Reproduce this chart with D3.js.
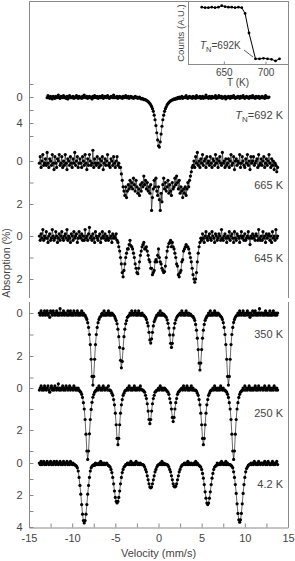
<!DOCTYPE html>
<html lang="en">
<head>
<meta charset="utf-8">
<title>Mössbauer spectra</title>
<script src="https://cdnjs.cloudflare.com/ajax/libs/d3/7.8.5/d3.min.js"></script>
<style>
  body { margin: 0; background: #fff; }
  text { font-family: "Liberation Sans", Arial, sans-serif; }
</style>
</head>
<body>
<div id="chart"></div>
<script>
// velocity channels: -14.0 ... 13.9 mm/s, 0.1 mm/s apart (each row below = 1 mm/s)
var velocity = d3.range(-140, 140).map(function(d) { return d / 10; });

// absorption (%) per channel, null = no data
var spec692 = [
  null,null,null,null,null,null,null,null,null,null,
  null,0.1,-0.2,0.0,0.2,-0.1,0.1,0.3,-0.1,0.0,
  0.2,-0.1,0.1,0.0,-0.3,0.1,0.2,-0.1,0.0,0.1,
  -0.2,0.1,0.0,0.2,-0.1,0.3,0.0,-0.2,0.1,0.0,
  0.1,-0.1,0.2,0.0,0.1,-0.2,0.0,0.2,-0.1,0.1,
  0.0,0.2,-0.1,0.1,-0.3,0.0,0.1,-0.1,0.2,0.0,
  -0.1,0.1,0.0,0.3,-0.1,0.1,-0.2,0.0,0.1,-0.1,
  0.2,0.0,-0.1,0.1,0.0,-0.2,0.2,0.1,-0.1,0.0,
  0.1,-0.2,0.0,0.2,0.1,-0.1,0.0,0.1,-0.3,0.1,
  0.0,0.1,-0.1,0.2,0.0,-0.1,0.1,0.0,0.2,-0.1,
  0.1,0.0,-0.2,0.1,0.1,-0.1,0.2,0.0,-0.1,0.1,
  0.0,0.2,0.1,-0.1,0.1,0.0,0.2,0.1,0.0,0.2,
  0.3,0.2,0.3,0.4,0.35,0.45,0.5,0.6,0.7,0.85,
  1.0,1.2,1.45,1.8,2.2,2.8,3.5,4.4,5.5,6.6,
  7.5,7.7,6.9,5.7,4.5,3.5,2.8,2.2,1.8,1.5,
  1.2,1.0,0.85,0.7,0.6,0.5,0.45,0.4,0.3,0.35,
  0.2,0.3,0.1,0.2,0.0,0.2,0.1,-0.1,0.2,0.1,
  0.0,0.1,-0.2,0.1,0.2,0.0,-0.1,0.1,0.0,0.2,
  -0.1,0.1,0.0,0.2,-0.2,0.1,0.0,0.1,-0.1,0.2,
  0.1,-0.1,0.2,0.0,0.1,-0.3,0.1,0.0,0.2,-0.1,
  0.0,0.2,-0.1,0.1,0.0,0.1,-0.2,0.2,0.0,0.1,
  -0.2,0.0,0.1,-0.1,0.2,0.0,0.1,-0.1,0.3,0.0,
  0.1,-0.1,0.0,0.2,-0.1,0.1,0.0,-0.2,0.1,0.2,
  0.0,0.1,-0.1,0.0,0.2,-0.1,0.1,0.0,-0.2,0.1,
  0.2,0.0,-0.1,0.1,0.0,0.2,-0.1,0.0,0.1,-0.2,
  0.1,0.0,0.2,-0.1,0.1,0.0,-0.1,0.2,0.0,0.1,
  -0.1,0.1,0.0,0.2,-0.2,0.1,0.0,0.1,0.0,null,
  null,null,null,null,null,null,null,null,null,null
];

var spec665 = [
  null,null,0.1,-0.2,0.3,0.0,-0.3,0.2,0.1,-0.1,
  0.2,-0.4,0.1,0.3,-0.1,0.0,0.2,-0.3,0.1,0.4,
  -0.2,0.1,0.3,-0.1,0.0,-0.3,0.2,0.1,-0.2,0.3,
  0.0,0.2,-0.3,0.1,0.4,-0.1,0.0,0.2,-0.2,0.1,
  0.3,-0.1,0.1,-0.4,0.2,0.0,-0.2,0.3,0.1,-0.1,
  0.1,0.3,-0.2,0.0,0.2,-0.3,0.1,0.4,-0.1,0.2,
  -0.3,0.0,0.2,0.1,-0.5,0.3,-0.1,0.1,0.2,-0.2,
  0.1,0.3,-0.1,0.2,0.0,-0.2,0.4,0.1,-0.1,0.2,
  0.0,-0.3,0.2,0.1,0.3,-0.1,0.0,0.2,-0.2,0.1,
  0.3,0.0,-0.2,0.2,0.1,0.3,0.3,0.6,0.9,1.2,
  1.4,1.6,1.2,1.7,1.4,1.1,1.3,0.9,1.2,1.0,
  1.3,0.8,1.1,1.4,0.9,1.2,1.5,1.3,1.6,1.1,
  1.4,1.0,1.2,0.7,1.1,0.9,1.3,1.0,1.4,1.2,
  1.5,1.1,2.3,1.7,1.3,0.9,1.2,0.8,1.4,1.6,
  1.2,1.8,2.3,1.5,1.9,1.1,0.8,1.3,1.0,1.4,
  1.2,0.9,1.5,1.1,1.4,1.6,1.0,1.3,1.2,0.8,
  1.1,0.7,1.0,1.3,0.9,1.5,1.2,1.4,1.7,1.3,
  1.5,1.2,1.6,1.3,1.0,1.2,0.9,0.7,0.5,0.3,
  0.2,0.0,0.3,-0.2,0.1,-0.4,0.2,0.0,0.3,-0.1,
  0.1,-0.3,0.2,0.0,-0.1,0.3,-0.2,0.1,0.0,0.2,
  -0.2,0.1,0.3,-0.1,0.0,0.2,-0.3,0.1,-0.1,0.3,
  0.0,-0.2,0.1,0.2,-0.4,0.1,0.0,0.3,-0.1,0.2,
  0.1,-0.1,0.3,0.0,-0.3,0.2,0.1,-0.2,0.4,0.0,
  -0.1,0.2,0.0,0.1,-0.3,0.3,0.1,-0.2,0.0,0.2,
  0.3,-0.1,0.1,-0.3,0.2,0.0,0.4,-0.2,0.1,0.0,
  -0.2,0.2,0.1,0.0,-0.1,0.3,-0.3,0.2,0.1,-0.1,
  0.2,0.0,-0.2,0.3,0.1,-0.1,0.2,0.0,-0.3,0.1,
  0.3,-0.1,0.2,0.0,0.4,0.1,0.2,0.5,0.3,null
];

var spec645 = [
  null,null,0.0,0.2,-0.1,0.1,-0.3,0.2,0.0,0.1,
  -0.2,0.1,0.3,0.0,-0.1,0.2,0.1,-0.3,0.0,0.2,
  0.1,-0.2,0.0,0.3,0.1,-0.1,0.2,0.0,-0.2,0.1,
  0.2,0.0,-0.1,0.1,-0.3,0.2,0.0,0.1,0.3,-0.1,
  0.0,0.2,-0.2,0.1,0.0,-0.1,0.3,0.1,-0.2,0.0,
  0.1,-0.1,0.2,0.0,0.2,-0.3,0.1,0.0,0.2,-0.1,
  -0.4,0.1,0.0,0.2,-0.1,0.1,0.3,-0.2,0.0,0.1,
  0.2,0.0,-0.1,0.3,0.1,-0.2,0.0,0.1,-0.1,0.2,
  0.0,0.1,0.2,-0.2,0.1,0.0,0.3,-0.1,0.1,0.0,
  0.1,-0.1,0.2,0.3,0.5,0.7,1.0,1.3,1.7,1.9,
  1.6,1.3,1.0,0.8,0.6,0.6,0.4,0.2,0.45,0.5,
  0.6,0.8,1.0,1.3,1.5,1.7,1.75,1.5,1.2,0.9,
  0.7,0.5,0.4,0.3,0.6,0.6,0.5,0.7,0.9,1.1,
  1.2,1.5,1.5,1.8,1.7,1.6,1.2,1.1,1.2,0.9,
  0.6,1.0,1.2,1.3,1.5,1.6,1.7,1.65,1.4,1.0,
  0.7,0.5,0.35,0.3,0.2,0.5,0.3,0.5,0.6,0.8,
  1.0,1.3,1.4,1.8,1.9,1.7,1.6,1.2,1.1,0.7,
  0.6,0.5,0.4,0.5,0.5,0.6,0.8,1.0,1.2,1.5,
  1.8,2.0,2.15,2.0,1.7,1.2,0.8,0.5,0.3,0.1,
  0.2,-0.1,0.1,0.3,0.0,-0.2,0.1,0.2,0.0,-0.1,
  0.1,0.2,-0.2,0.0,0.1,0.3,-0.1,0.0,0.2,0.1,
  -0.1,0.0,0.2,-0.3,0.1,0.2,0.0,-0.1,0.1,0.3,
  0.0,0.1,-0.2,0.2,0.0,-0.1,0.1,0.3,-0.2,0.1,
  0.2,-0.1,0.0,0.1,0.3,0.0,-0.2,0.1,0.0,0.2,
  -0.1,0.2,0.1,0.0,-0.2,0.1,0.4,0.0,0.1,-0.1,
  0.1,0.0,0.2,-0.1,0.0,0.2,-0.3,0.1,0.2,0.0,
  0.2,-0.2,0.1,0.0,0.3,-0.1,0.1,0.0,-0.1,0.2,
  0.0,0.3,-0.2,0.1,0.0,0.2,-0.3,0.1,0.0,null
];

var spec350 = [
  null,null,0.0,0.1,-0.1,0.0,0.1,0.0,-0.1,0.1,
  0.0,-0.1,0.1,0.0,0.2,-0.1,0.0,0.1,-0.1,0.0,
  0.1,0.0,-0.1,0.1,0.0,0.1,-0.2,0.0,0.1,0.0,
  -0.1,0.1,0.0,0.0,0.1,-0.1,0.1,0.0,-0.1,0.1,
  0.0,0.1,-0.1,0.0,0.1,0.0,-0.1,0.1,0.0,0.1,
  0.0,-0.1,0.1,0.0,0.1,0.1,0.2,0.3,0.45,0.67,
  1.0,1.47,2.15,2.95,3.35,2.95,2.15,1.47,1.0,0.67,
  0.45,0.3,0.2,0.15,0.05,0.0,0.1,-0.1,0.1,0.0,
  0.1,0.0,-0.1,0.1,0.0,0.1,0.0,0.05,0.1,0.15,
  0.25,0.35,0.5,0.75,1.1,1.6,2.2,2.55,2.25,1.65,
  1.1,0.75,0.5,0.35,0.2,0.15,0.1,0.0,0.1,-0.1,
  0.0,0.1,0.0,-0.1,0.1,0.0,0.1,-0.1,0.0,0.1,
  0.1,0.0,0.1,0.1,0.15,0.2,0.3,0.45,0.6,0.9,
  1.25,1.4,1.2,0.9,0.6,0.4,0.3,0.2,0.1,0.1,
  0.0,0.1,-0.1,0.1,0.0,0.1,0.05,0.1,0.15,0.2,
  0.32,0.48,0.7,1.02,1.41,1.6,1.41,1.02,0.7,0.48,
  0.32,0.21,0.14,0.1,0.06,0.0,0.1,-0.1,0.0,0.1,
  0.0,0.1,-0.1,0.0,0.1,0.0,0.1,0.05,0.1,0.15,
  0.16,0.24,0.34,0.53,0.8,1.17,1.7,2.33,2.65,2.33,
  1.7,1.17,0.8,0.53,0.34,0.24,0.16,0.11,0.0,0.1,
  -0.1,0.1,0.0,0.1,0.0,-0.1,0.1,0.0,0.1,0.0,
  0.05,0.1,0.15,0.2,0.3,0.45,0.67,1.0,1.47,2.15,
  2.95,3.35,2.95,2.15,1.47,1.0,0.67,0.44,0.3,0.2,
  0.13,0.1,0.0,0.1,-0.1,0.0,0.1,0.0,-0.1,0.1,
  0.0,0.1,0.0,-0.1,0.1,0.0,0.2,0.0,0.1,-0.1,
  0.1,0.0,-0.1,0.1,0.0,0.1,0.0,-0.2,0.1,0.0,
  0.0,0.1,0.0,0.1,-0.1,0.0,0.1,0.0,0.1,-0.1,
  0.1,0.0,0.1,-0.1,0.0,0.1,0.0,0.1,0.0,null
];

var spec250 = [
  null,null,0.1,0.0,-0.1,0.1,0.0,0.1,-0.1,0.0,
  0.1,0.0,-0.1,0.1,0.2,0.0,-0.1,0.1,0.0,0.1,
  -0.1,0.0,0.1,0.0,-0.2,0.1,0.0,0.1,0.0,-0.1,
  0.1,0.0,0.1,-0.1,0.0,0.1,0.0,-0.1,0.1,0.0,
  0.0,0.1,-0.1,0.0,0.1,0.0,0.1,0.0,0.1,0.15,
  0.2,0.3,0.45,0.7,1.0,1.5,2.2,3.0,3.4,3.0,
  2.18,1.5,1.02,0.68,0.44,0.31,0.2,0.14,0.1,0.0,
  0.1,-0.1,0.0,0.1,0.0,0.1,-0.1,0.0,0.1,0.0,
  0.0,0.1,-0.1,0.1,0.1,0.15,0.25,0.35,0.55,0.8,
  1.2,1.75,2.4,2.7,2.4,1.75,1.2,0.8,0.55,0.35,
  0.25,0.15,0.1,0.1,0.0,0.1,-0.1,0.0,0.1,0.0,
  0.1,0.0,-0.1,0.1,0.0,0.1,0.0,0.0,0.1,-0.1,
  0.05,0.1,0.1,0.15,0.2,0.35,0.5,0.75,1.1,1.5,
  1.7,1.5,1.1,0.75,0.5,0.35,0.2,0.15,0.1,0.1,
  0.0,0.1,-0.1,0.0,0.1,0.0,0.1,0.0,0.05,0.1,
  0.15,0.2,0.3,0.5,0.7,1.0,1.4,1.6,1.4,1.0,
  0.7,0.5,0.3,0.2,0.15,0.1,0.05,0.0,0.1,-0.1,
  0.0,0.1,0.0,-0.1,0.1,0.0,0.1,0.0,-0.1,0.1,
  0.0,0.1,0.1,0.1,0.15,0.25,0.35,0.55,0.8,1.2,
  1.75,2.4,2.7,2.4,1.75,1.2,0.8,0.55,0.35,0.25,
  0.15,0.1,0.1,0.0,0.1,-0.1,0.0,0.1,0.0,0.1,
  0.0,0.1,-0.1,0.0,0.1,0.0,0.1,0.1,0.15,0.2,
  0.3,0.45,0.7,1.0,1.5,2.2,3.0,3.4,3.0,2.2,
  1.5,1.0,0.7,0.45,0.3,0.2,0.15,0.1,0.0,0.1,
  -0.1,0.1,0.0,0.1,0.0,-0.1,0.1,0.0,0.1,0.0,
  0.1,0.0,-0.1,0.1,0.0,0.1,-0.1,0.0,0.1,0.0,
  0.0,0.1,0.0,-0.1,0.1,0.0,0.1,0.0,-0.1,0.1,
  0.0,0.1,0.0,0.1,-0.1,0.0,0.1,0.0,0.1,null
];

var spec4k = [
  null,null,0.0,0.1,-0.1,0.1,0.0,-0.1,0.1,0.0,
  0.1,-0.1,0.0,0.1,0.0,-0.1,0.1,0.0,0.1,-0.1,
  0.0,0.1,-0.1,0.0,0.1,0.0,-0.1,0.1,0.0,0.1,
  -0.1,0.0,0.1,0.0,-0.1,0.1,0.0,0.1,-0.1,0.0,
  0.1,0.0,0.1,0.1,0.15,0.2,0.3,0.5,0.9,1.4,
  1.95,2.6,3.2,3.6,3.75,3.6,3.2,2.6,1.95,1.4,
  0.9,0.5,0.3,0.2,0.15,0.1,0.15,0.0,0.1,0.05,
  0.1,0.0,0.1,-0.1,0.1,0.0,0.1,0.0,0.1,0.05,
  0.0,0.1,0.15,0.2,0.25,0.4,0.6,0.9,1.3,1.75,
  2.15,2.4,2.5,2.4,2.15,1.75,1.3,0.9,0.6,0.4,
  0.25,0.2,0.1,0.1,0.0,0.1,0.0,0.1,-0.1,0.1,
  0.0,0.1,0.0,0.1,-0.1,0.0,0.1,0.0,0.1,0.0,
  0.1,0.1,0.1,0.15,0.25,0.4,0.55,0.8,1.05,1.3,
  1.5,1.55,1.5,1.3,1.05,0.8,0.55,0.4,0.25,0.15,
  0.1,0.1,0.0,0.1,-0.1,0.1,0.0,0.1,0.05,0.1,
  0.1,0.15,0.25,0.4,0.55,0.8,1.05,1.3,1.45,1.5,
  1.45,1.3,1.05,0.8,0.55,0.4,0.25,0.15,0.1,0.1,
  0.0,0.1,0.0,0.1,-0.1,0.1,0.0,0.1,0.0,0.1,
  0.1,0.0,0.1,-0.1,0.1,0.0,0.1,0.15,0.2,0.25,
  0.4,0.65,0.95,1.35,1.8,2.2,2.5,2.6,2.5,2.2,
  1.8,1.35,0.95,0.65,0.4,0.25,0.2,0.15,0.0,0.1,
  0.1,0.0,0.1,-0.1,0.0,0.1,0.0,0.1,-0.1,0.1,
  0.0,0.1,0.1,0.1,0.15,0.2,0.3,0.55,0.9,1.35,
  1.9,2.55,3.15,3.55,3.7,3.55,3.15,2.55,1.9,1.35,
  0.9,0.55,0.35,0.25,0.15,0.1,0.1,0.0,0.1,0.0,
  0.1,-0.1,0.0,0.1,0.0,0.1,-0.1,0.0,0.1,0.0,
  0.0,0.1,0.0,-0.1,0.1,0.0,0.1,-0.1,0.0,0.1,
  0.1,0.0,-0.1,0.1,0.0,0.1,0.0,-0.1,0.1,null
];

var tempLabels = ["=692 K", "665 K", "645 K", "350 K", "250 K", "4.2 K"];

// inset: counts vs temperature
var insetT = [623.5, 627.5, 631.5, 635.5, 639.5, 643.5, 647.5, 651.5, 655.5, 659.5, 663.5, 667.5, 671.5,
              675.5, 680.2, 688, 692.8, 697.6, 702.4, 707.2, 712, 716.8];
var insetCounts = [1.0, 0.99, 0.99, 1.0, 0.99, 1.0, 1.03, 1.01, 1.0, 1.0, 0.99, 1.0, 0.99,
                   0.88, 0.5, 0.0, 0.0, 0.01, 0.0, -0.01, -0.04, 0.0];

var xTicks = [-15, -12.5, -10, -7.5, -5, -2.5, 0, 2.5, 5, 7.5, 10, 12.5, 15];

// layout of the stacked spectra
var panels = [
  {data: spec692, domain: [0, 4], range: [97, 123], ticks: [-2, 0, 2, 4, 6], shown: [0, 4], labelY: 119},
  {data: spec665, domain: [0, 2], range: [161, 204], ticks: [0, 1, 2], shown: [0, 2], labelY: 189},
  {data: spec645, domain: [0, 2], range: [236, 279], ticks: [0, 1, 2], shown: [0, 2], labelY: 262},
  {data: spec350, domain: [0, 2], range: [313, 356], ticks: [0, 1, 2, 3], shown: [0, 2], labelY: 338},
  {data: spec250, domain: [0, 2], range: [388, 430], ticks: [0, 1, 2, 3], shown: [0, 2], labelY: 417},
  {data: spec4k, domain: [0, 4], range: [463, 527], ticks: [0, 1, 2, 3, 4], shown: [0, 2, 4], labelY: 488}
];

var w = 295, h = 561;
var left = 29, right = 288, bottom = 527;
var frameColor = "#8a8a8a", textColor = "#444";

var svg = d3.select("#chart").append("svg")
    .attr("width", w)
    .attr("height", h);

var x = d3.scaleLinear().domain([-15, 15]).range([left, right]);

// frame: two stacked boxes
var frame = svg.append("g").attr("stroke", frameColor).attr("stroke-width", 1).attr("fill", "none");
frame.append("path").attr("d", "M" + (left + 0.5) + ",298V1.5H" + (right + 0.5) + "V298");
frame.append("path").attr("d", "M" + (left + 0.5) + ",302V" + (bottom + 0.5) + "M" + (right + 0.5) + ",302V" + (bottom + 0.5));

// bottom axis
var xAxis = d3.axisBottom(x)
    .tickValues(xTicks)
    .tickSizeInner(-4)
    .tickSizeOuter(0)
    .tickPadding(7)
    .tickFormat(function(d) { return d % 5 === 0 ? String(d) : ""; });
var gx = svg.append("g")
    .attr("transform", "translate(0," + (bottom + 0.5) + ")")
    .call(xAxis);
gx.select(".domain").attr("stroke", frameColor);
gx.selectAll(".tick line").attr("stroke", frameColor);
gx.selectAll("text").attr("fill", textColor).attr("font-size", 11)
    .attr("font-family", "Liberation Sans, Arial, sans-serif");

svg.append("text")
    .attr("x", (left + right) / 2)
    .attr("y", 557)
    .attr("text-anchor", "middle")
    .attr("font-size", 11)
    .attr("fill", textColor)
    .text("Velocity (mm/s)");

svg.append("text")
    .attr("transform", "translate(10,263) rotate(-90)")
    .attr("text-anchor", "middle")
    .attr("font-size", 10.5)
    .attr("fill", textColor)
    .text("Absorption (%)");

panels.forEach(function(p, k) {
  var y = d3.scaleLinear().domain(p.domain).range(p.range);

  var yAxis = d3.axisLeft(y)
      .tickValues(p.ticks)
      .tickSizeInner(-4)
      .tickSizeOuter(0)
      .tickPadding(7)
      .tickFormat(function(d) { return p.shown.indexOf(d) >= 0 ? String(d) : ""; });
  var gy = svg.append("g")
      .attr("transform", "translate(" + (left + 0.5) + ",0)")
      .call(yAxis);
  gy.select(".domain").remove();
  gy.selectAll(".tick line").attr("stroke", frameColor);
  gy.selectAll("text").attr("fill", textColor).attr("font-size", 11)
      .attr("font-family", "Liberation Sans, Arial, sans-serif");

  var pts = velocity.map(function(v, i) { return [v, p.data[i]]; })
      .filter(function(d) { return d[1] !== null; });

  svg.append("path")
      .datum(pts)
      .attr("fill", "none")
      .attr("stroke", "#000")
      .attr("stroke-width", 0.6)
      .attr("d", d3.line()
          .x(function(d) { return x(d[0]); })
          .y(function(d) { return y(d[1]); }));

  svg.append("g").selectAll("circle")
      .data(pts)
      .join("circle")
      .attr("cx", function(d) { return x(d[0]); })
      .attr("cy", function(d) { return y(d[1]); })
      .attr("r", 1.6)
      .attr("fill", "#000");

  var t = svg.append("text")
      .attr("x", 283)
      .attr("y", p.labelY)
      .attr("text-anchor", "end")
      .attr("font-size", 11)
      .attr("fill", textColor);
  if (k === 0) {
    t.append("tspan").attr("font-style", "italic").text("T");
    t.append("tspan").attr("font-size", 8).attr("dy", 3).text("N");
    t.append("tspan").attr("dy", -3).text(tempLabels[k]);
  } else {
    t.text(tempLabels[k]);
  }
});

// inset
var inset = svg.append("g");
var xT = d3.scaleLinear().domain([607, 727]).range([188, 288]);
var yC = d3.scaleLinear().domain([-0.1, 1.12]).range([64, 1]);

inset.append("rect")
    .attr("x", 188.5).attr("y", 1.5)
    .attr("width", 100).attr("height", 63)
    .attr("fill", "#fff")
    .attr("stroke", frameColor);

var tAxis = d3.axisBottom(xT)
    .tickValues([650, 700])
    .tickSizeInner(-3)
    .tickSizeOuter(0)
    .tickPadding(4);
var gt = inset.append("g").attr("transform", "translate(0,64.5)").call(tAxis);
gt.select(".domain").remove();
gt.selectAll(".tick line").attr("stroke", frameColor);
gt.selectAll("text").attr("fill", textColor).attr("font-size", 10)
    .attr("font-family", "Liberation Sans, Arial, sans-serif");

inset.append("text")
    .attr("x", 238).attr("y", 86)
    .attr("text-anchor", "middle")
    .attr("font-size", 10)
    .attr("fill", textColor)
    .text("T (K)");

inset.append("text")
    .attr("transform", "translate(184,33) rotate(-90)")
    .attr("text-anchor", "middle")
    .attr("font-size", 9.5)
    .attr("fill", textColor)
    .text("Counts (A.U.)");

var ipts = insetT.map(function(t, i) { return [t, insetCounts[i]]; });
inset.append("path")
    .datum(ipts)
    .attr("fill", "none")
    .attr("stroke", "#000")
    .attr("stroke-width", 1)
    .attr("d", d3.line()
        .x(function(d) { return xT(d[0]); })
        .y(function(d) { return yC(d[1]); }));
inset.append("g").selectAll("circle")
    .data(ipts)
    .join("circle")
    .attr("cx", function(d) { return xT(d[0]); })
    .attr("cy", function(d) { return yC(d[1]); })
    .attr("r", 1.4)
    .attr("fill", "#000");

var tn = inset.append("text")
    .attr("x", 200).attr("y", 49)
    .attr("font-size", 10)
    .attr("fill", textColor);
tn.append("tspan").attr("font-style", "italic").text("T");
tn.append("tspan").attr("font-size", 7.5).attr("dy", 3).text("N");
tn.append("tspan").attr("dy", -3).text("=692K");

inset.append("line")
    .attr("x1", 244).attr("y1", 50)
    .attr("x2", 253).attr("y2", 57)
    .attr("stroke", "#333")
    .attr("stroke-width", 0.8);
</script>
</body>
</html>
